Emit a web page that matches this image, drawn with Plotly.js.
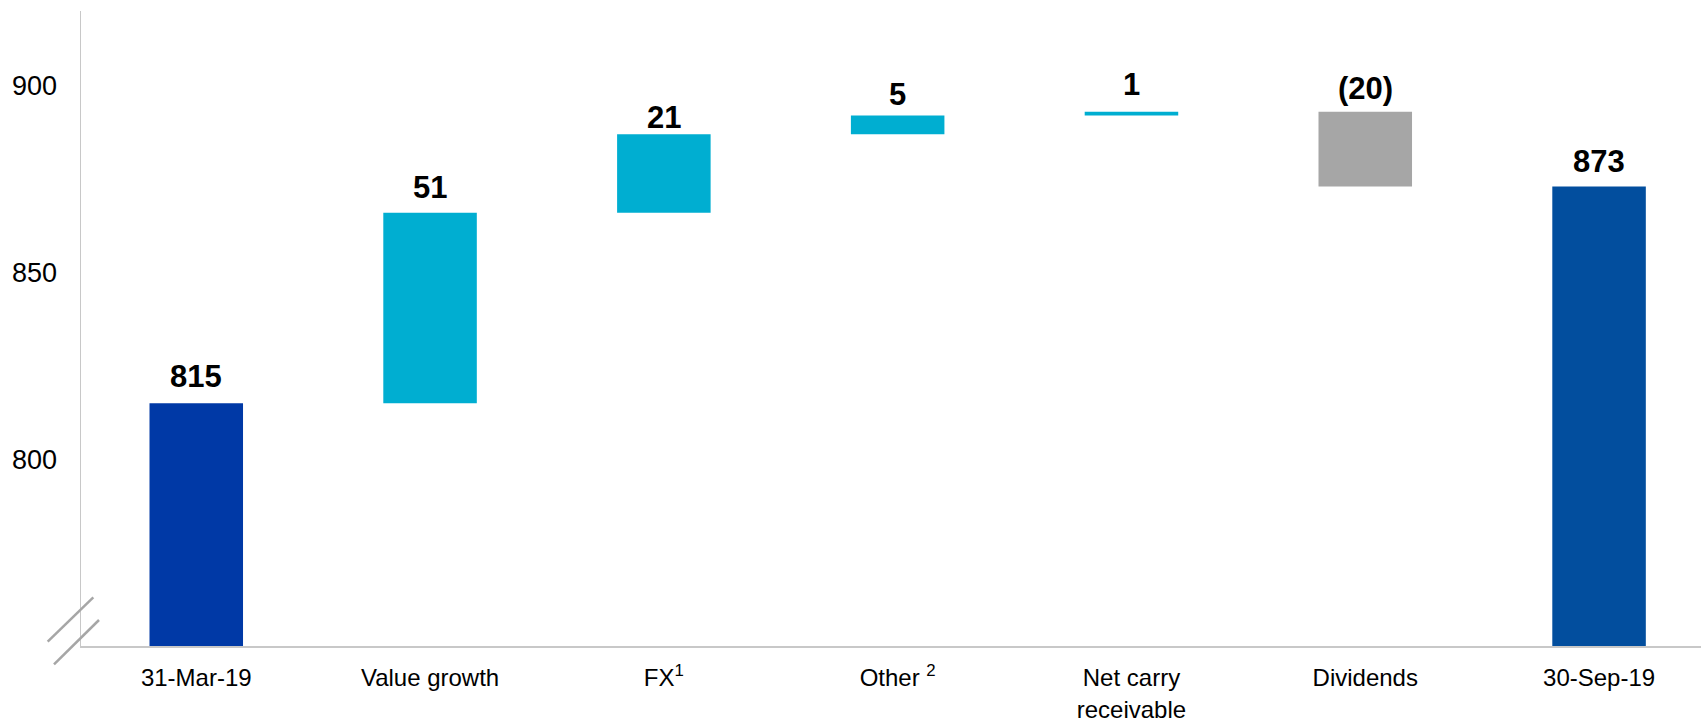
<!DOCTYPE html>
<html>
<head>
<meta charset="utf-8">
<script src="https://cdn.plot.ly/plotly-3.0.1.min.js"></script>
<style>
  html, body { margin: 0; padding: 0; background: #ffffff; }
  #chart { width: 1701px; height: 723px; }
</style>
</head>
<body>
<div id="chart"></div>
<script>
// NAV bridge: opening value, movements, closing value
const categories = ['31-Mar-19', 'Value growth', 'FX<sup>1</sup>', 'Other <sup>2</sup>',
                    'Net carry<br>receivable', 'Dividends', '30-Sep-19'];
const openingValue = 815;
const movements = [51, 21, 5, 1, -20];
const closingValue = 873;
const valueLabels = ['815', '51', '21', '5', '1', '(20)', '873'];
const yTicks = [800, 850, 900];

// colours per bar kind
const COLOR_OPEN = '#0039A6';
const COLOR_UP = '#00AED1';
const COLOR_DOWN = '#A6A6A6';
const COLOR_CLOSE = '#024E9E';

// build floating bars: base + height for every step
const bases = [0];
const heights = [openingValue];
const tops = [openingValue];
const colors = [COLOR_OPEN];
let running = openingValue;
movements.forEach(function (m) {
  bases.push(m >= 0 ? running : running + m);
  heights.push(Math.abs(m));
  running += m;
  tops.push(m >= 0 ? running : running - m);
  colors.push(m >= 0 ? COLOR_UP : COLOR_DOWN);
});
bases.push(0);
heights.push(closingValue);
tops.push(closingValue);
colors.push(COLOR_CLOSE);

const FONT = 'Liberation Sans, Arial, sans-serif';

// plot-area geometry (pixels)
const M = { l: 81, r: 0, t: 11, b: 77 };
const W = 1701, H = 723;
const PW = W - M.l - M.r, PH = H - M.t - M.b;
function px(xp) { return (xp - M.l) / PW; }
function py(yp) { return (H - M.b - yp) / PH; }

// vertical offset (px) of each value label above its bar
const labelLift = [27, 25, 17, 21, 27, 23, 25];

const annotations = categories.map(function (c, i) {
  return {
    x: c, y: tops[i], xref: 'x', yref: 'y',
    text: '<b>' + valueLabels[i] + '</b>',
    showarrow: false, yanchor: 'middle', xanchor: 'center',
    yshift: labelLift[i],
    font: { family: FONT, size: 31, color: '#000000' }
  };
});

// axis-break marks across the bottom of the y axis
const breakStyle = { color: '#A6A6A6', width: 2.5 };
const shapes = [
  { type: 'line', xref: 'paper', yref: 'paper',
    x0: px(47.7), y0: py(641.7), x1: px(93.3), y1: py(597.3), line: breakStyle },
  { type: 'line', xref: 'paper', yref: 'paper',
    x0: px(54), y0: py(664.3), x1: px(99), y1: py(620), line: breakStyle }
];

const trace = {
  type: 'bar',
  x: categories,
  y: heights,
  base: bases,
  width: 0.4,
  marker: { color: colors, line: { width: 0 } },
  hoverinfo: 'skip'
};

const layout = {
  width: W, height: H,
  margin: M,
  paper_bgcolor: '#ffffff',
  plot_bgcolor: '#ffffff',
  showlegend: false,
  font: { family: FONT, color: '#000000' },
  xaxis: {
    type: 'category',
    range: [-0.493, 6.436],
    showgrid: false, zeroline: false,
    showline: true, linecolor: '#C8C8C8', linewidth: 1.5,
    ticks: 'outside', ticklen: 10, tickcolor: 'rgba(0,0,0,0)',
    tickfont: { family: FONT, size: 24, color: '#000000' },
    fixedrange: true
  },
  yaxis: {
    range: [750, 920],
    tickvals: yTicks,
    ticktext: yTicks.map(String),
    showgrid: false, zeroline: false,
    showline: true, linecolor: '#C8C8C8', linewidth: 1.5,
    ticks: 'outside', ticklen: 17, tickcolor: 'rgba(0,0,0,0)',
    tickfont: { family: FONT, size: 27, color: '#000000' },
    fixedrange: true
  },
  annotations: annotations,
  shapes: shapes
};

Plotly.newPlot('chart', [trace], layout, { displayModeBar: false, staticPlot: true });
</script>
</body>
</html>
